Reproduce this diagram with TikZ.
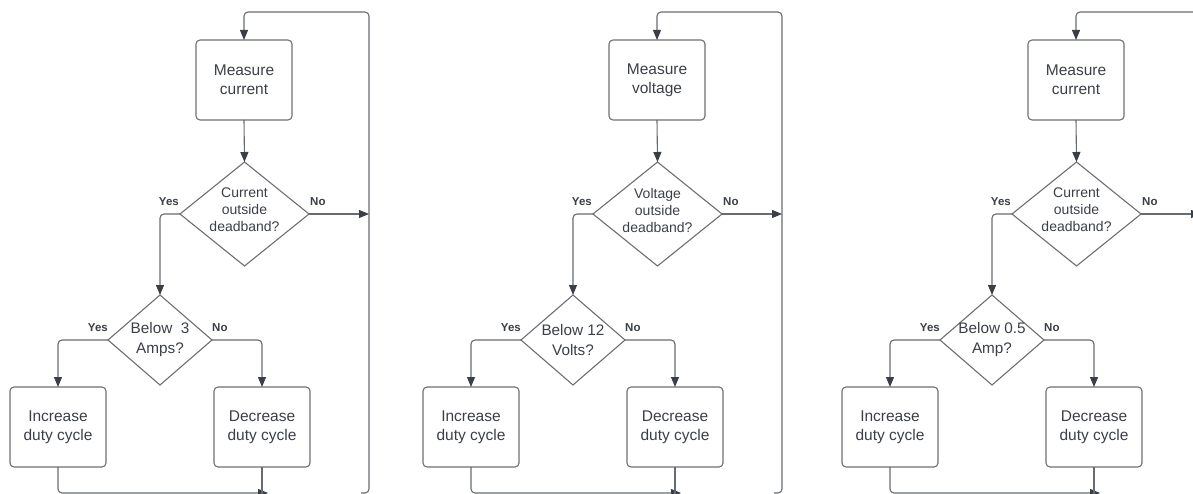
\documentclass[tikz,border=0pt]{standalone}
\usepackage{fontspec}
\setmainfont{Liberation Sans}
\usetikzlibrary{arrows.meta,shapes.geometric,calc}

\definecolor{ink}{HTML}{3A3F47}
\definecolor{wire}{HTML}{676B71}
\definecolor{edge}{HTML}{6C6E72}

\tikzset{
  stepbox/.style={draw=edge, line width=1.1pt, rounded corners=4pt,
    minimum width=96pt, minimum height=80pt, inner sep=0pt, outer sep=0pt,
    align=center, text=ink, font=\fontsize{15.5}{19}\selectfont},
  choice/.style={draw=edge, line width=1.1pt, diamond, inner sep=0pt, outer sep=0pt},
  choicetext/.style={align=center, text=ink, inner sep=0pt},
  tag/.style={text=ink, inner sep=0pt, font=\bfseries\fontsize{11.5}{13}\selectfont},
  wireline/.style={draw=wire, line width=1.1pt, rounded corners=4pt},
  flow/.style={wireline, -{Triangle[length=10pt,width=8pt,color=ink]}},
}

% one control loop: measure, deadband test, threshold test, two actions
\newcommand\flowpanel[5]{%
  \begin{scope}[xshift=#2pt]
    \node[stepbox] (#1m) at (244,80) {#3};
    \node[choice, minimum width=129pt, minimum height=104pt] (#1d) at (244.5,214) {};
    \node[choicetext, font=\fontsize{14}{17}\selectfont] (#1dt) at ($(#1d)+(0,-4)$) {#4};
    \node[choice, minimum width=104pt, minimum height=90pt] (#1e) at (160,340) {};
    \node[choicetext, font=\fontsize{15.3}{20}\selectfont] (#1et) at (#1e) {#5};
    \node[stepbox] (#1i) at (58,427) {Increase\\duty cycle};
    \node[stepbox] (#1c) at (262,427) {Decrease\\duty cycle};
    % branch labels
    \node[tag, anchor=east] (#1dy) at ($(#1d.west)+(-1,-12)$) {Yes};
    \node[tag, anchor=west] (#1dn) at ($(#1d.east)+(1,-12)$) {No};
    \node[tag, anchor=east] (#1ey) at ($(#1e.west)+(0,-12)$) {Yes};
    \node[tag, anchor=west] (#1en) at ($(#1e.east)+(0,-12)$) {No};
    % loop-back rail
    \coordinate (#1rt) at (369,12);
    \coordinate (#1rb) at (369,493);
    \coordinate (#1rs) at (361,493);
    \coordinate (#1rn) at (369,214);
    \coordinate (#1j) at (268,493);
    \coordinate (#1cb) at (262,500);
    % connectors
    \draw[flow] (#1m.south) -- (#1d.north);
    \draw[flow] (#1d.east) -- (#1rn);
    \draw[flow] (#1d.west) -| (#1e.north);
    \draw[flow] (#1e.west) -| (#1i.north);
    \draw[flow] (#1e.east) -| (#1c.north);
    \draw[flow] (#1i.south) |- (#1j);
    \draw[wireline] (#1c.south) -- (#1cb);
    \draw[flow] (#1rs) -- (#1rb) -- (#1rt) -| (#1m.north);
  \end{scope}}

\begin{document}
\begin{tikzpicture}[x=1pt, y=-1pt]
  \useasboundingbox (0,0) rectangle (1193,494);
  \flowpanel{a}{0}{Measure\\current}{Current\\outside\\deadband?}{Below\ \ 3\\Amps?}
  \flowpanel{b}{413}{Measure\\voltage}{Voltage\\outside\\deadband?}{Below 12\\Volts?}
  \flowpanel{c}{832}{Measure\\current}{Current\\outside\\deadband?}{Below 0.5\\Amp?}
\end{tikzpicture}
\end{document}
